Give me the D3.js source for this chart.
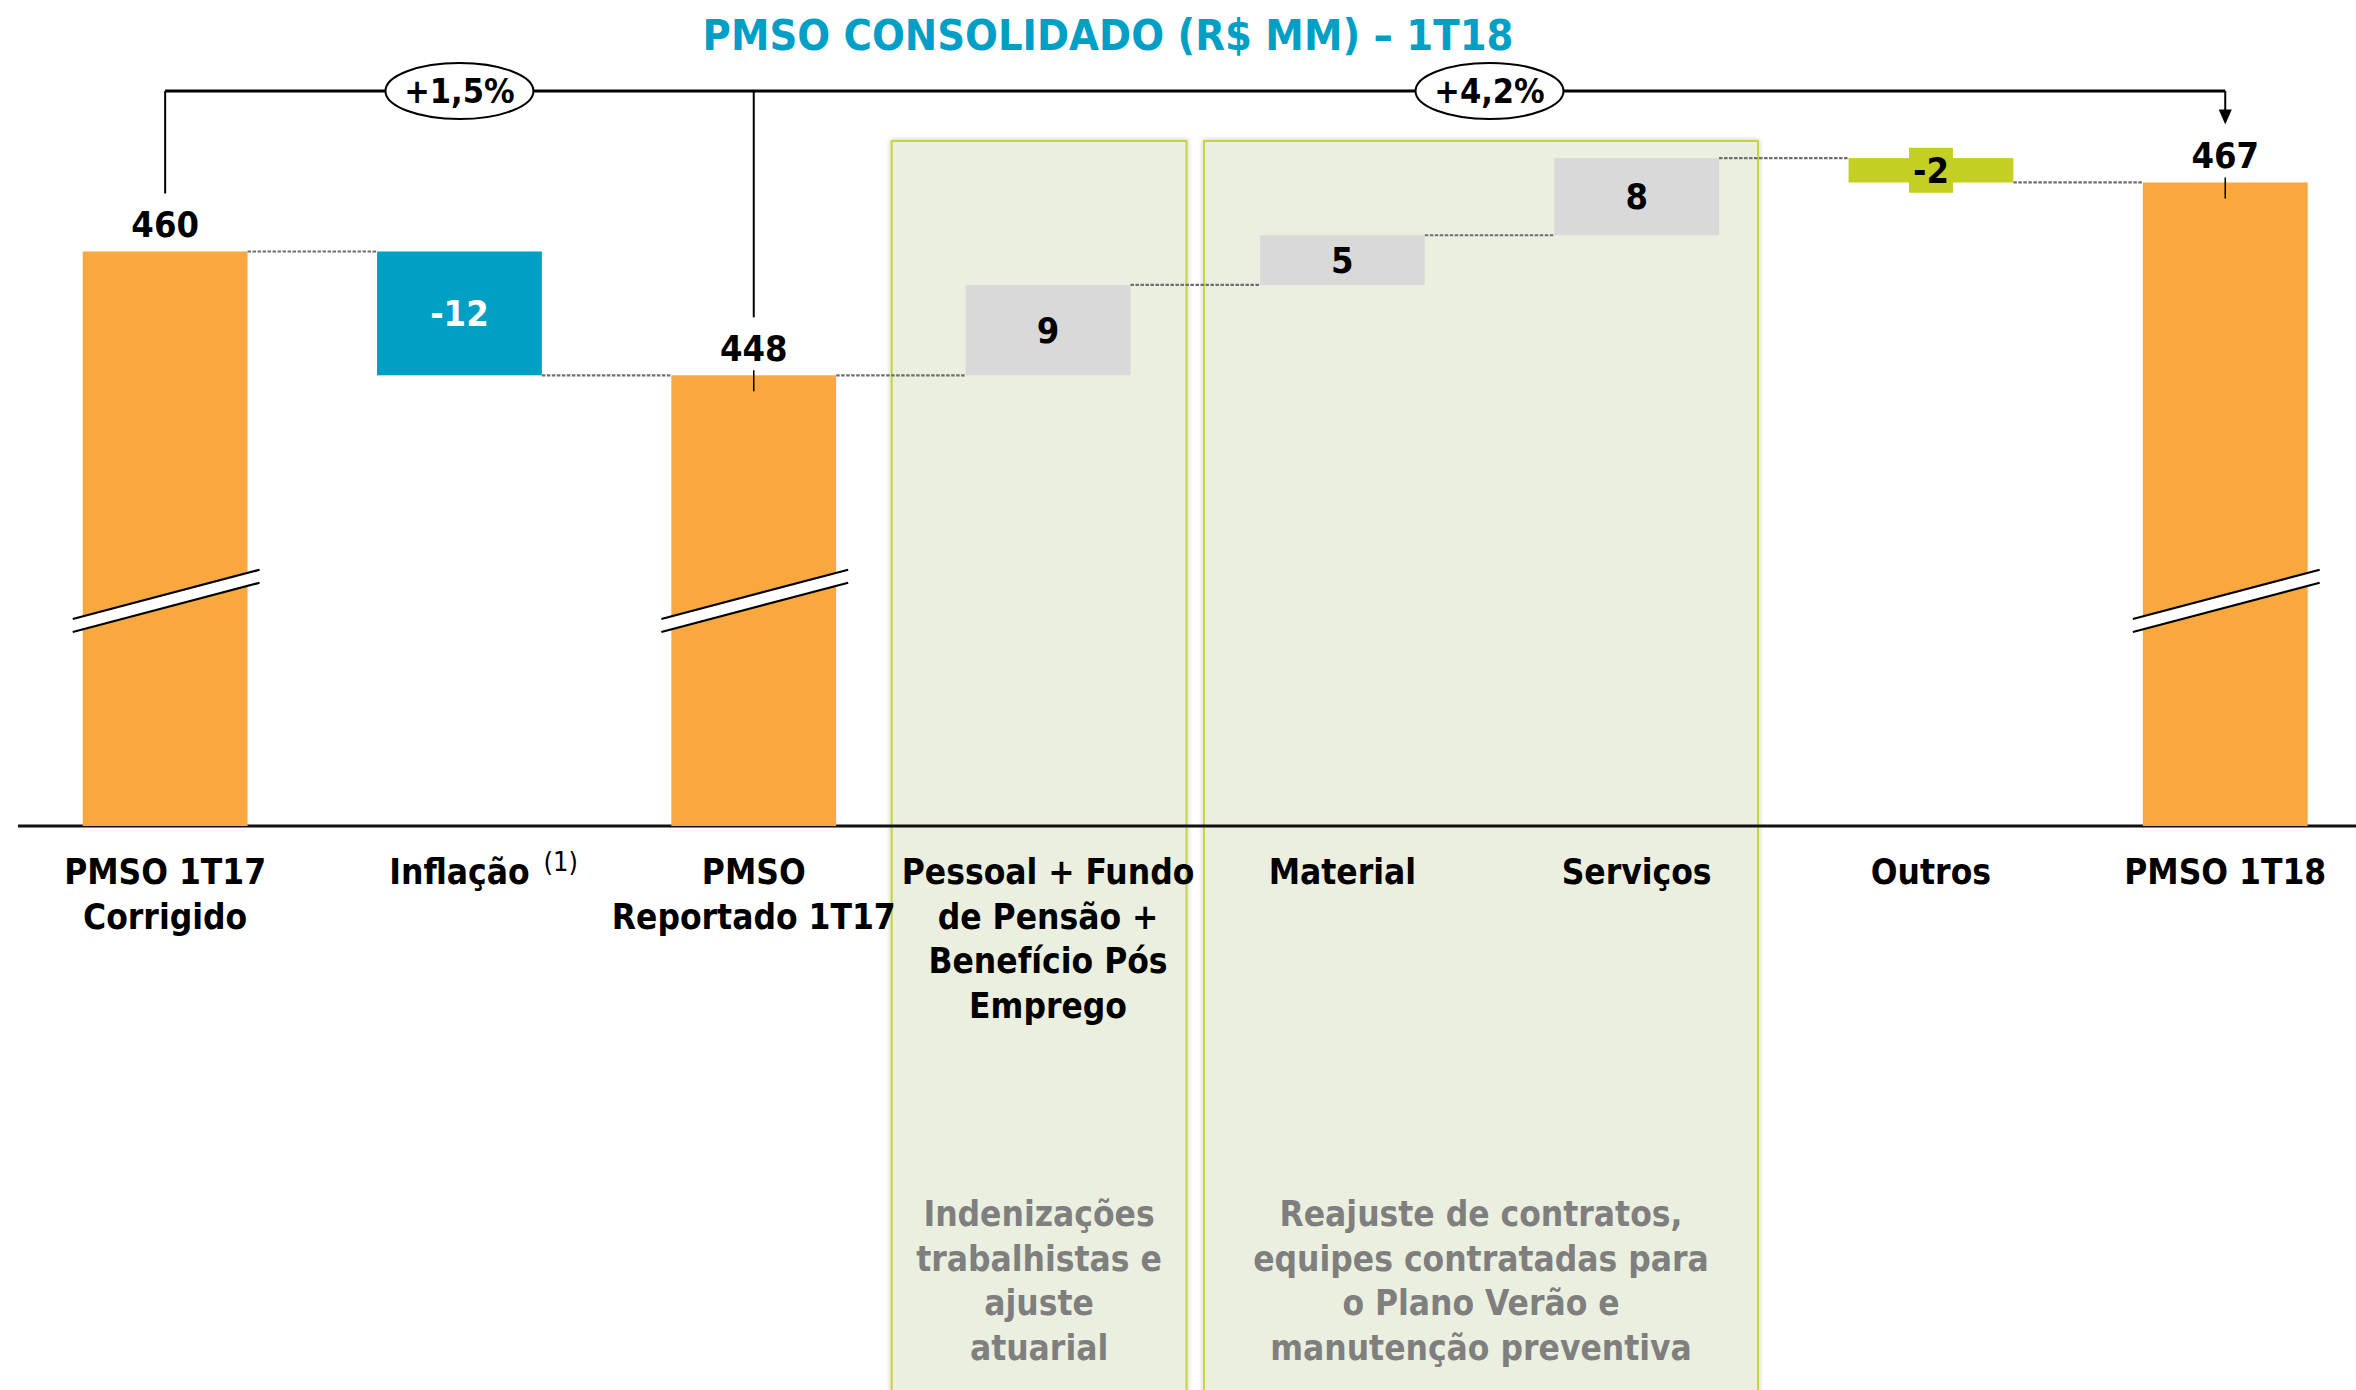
<!DOCTYPE html>
<html>
<head>
<meta charset="utf-8">
<script src="https://cdn.jsdelivr.net/npm/d3@7"></script>
<style>
    body { margin: 0; background: #fff; }
    text { font-family: 'DejaVu Sans Condensed', 'DejaVu Sans', sans-serif; font-stretch: condensed; font-weight: bold; }
</style>
</head>
<body>
<svg id="chart" width="2356" height="1390"></svg>
<script>
// ------- Data -------

const chartTitle = 'PMSO CONSOLIDADO (R$ MM) – 1T18';

const categories = [
    ['PMSO 1T17', 'Corrigido'],
    ['Inflação'],
    ['PMSO', 'Reportado 1T17'],
    ['Pessoal + Fundo', 'de Pensão +', 'Benefício Pós', 'Emprego'],
    ['Material'],
    ['Serviços'],
    ['Outros'],
    ['PMSO 1T18']
];
const footnoteMarks = ['', '(1)', '', '', '', '', '', ''];
const kinds = ['total', 'delta', 'total', 'delta', 'delta', 'delta', 'delta', 'total'];
const values = [460.2, -12.2, 448.0, 8.9, 4.9, 7.6, -2.4, 467.0];

// growth brackets: from bar -> to bar
const growthFrom = [0, 2];
const growthTo = 7;

const notes = [
    { bars: [3], lines: ['Indenizações', 'trabalhistas e', 'ajuste', 'atuarial'] },
    { bars: [4, 5], lines: ['Reajuste de contratos,', 'equipes contratadas para', 'o Plano Verão e', 'manutenção preventiva'] }
];

// ------- Styles -------

const barColours = ['#F9A83F', '#00A0C4', '#F9A83F', '#D9D9D9', '#D9D9D9', '#D9D9D9', '#C3CF22', '#F9A83F'];
const insideTextColours = ['#000', '#fff', '#000', '#000', '#000', '#000', '#000', '#000'];
const notePads = [[74, 56], [56, 39]];

// ------- Set up -------

const svg = d3.select('#chart');
const width = +svg.attr('width');
const height = +svg.attr('height');

const baseY = 826;
const bracketY = 91;
const breakY = 601;
const step = 294.3;

const x = d3.scaleBand()
    .domain(d3.range(categories.length))
    .range([18, 18 + step * categories.length])
    .paddingInner(0.44)
    .paddingOuter(0.22);

const y = d3.scaleLinear()
    .domain([403.6, 470])
    .range([baseY, 152]);

// running totals for the waterfall
const bars = [];
let running = 0;
values.forEach((v, i) => {
    if (kinds[i] == 'total') {
        running = v;
        bars.push({ i, v, y0: v, y1: null });
    } else {
        const start = running;
        running = running + v;
        bars.push({ i, v, y0: Math.max(start, running), y1: Math.min(start, running), start, end: running });
    }
});
bars.forEach(b => { b.level = kinds[b.i] == 'total' ? b.v : b.end; });

const fmt = v => String(Math.round(v)).replace('.', ',');
const cx = i => x(i) + x.bandwidth() / 2;

// ------- Shadow filter -------

const defs = svg.append('defs');
defs.append('filter')
    .attr('id', 'shadow')
    .attr('x', '-5%').attr('y', '-5%').attr('width', '110%').attr('height', '110%')
    .append('feDropShadow')
        .attr('dx', 0).attr('dy', 0)
        .attr('stdDeviation', 2.5)
        .attr('flood-color', '#000')
        .attr('flood-opacity', 0.25);

// ------- Note boxes -------

const noteG = svg.append('g').attr('class', 'notes');

notes.forEach((n, k) => {
    const first = n.bars[0];
    const last = n.bars[n.bars.length - 1];
    const left = x(first) - notePads[k][0];
    const right = x(last) + x.bandwidth() + notePads[k][1];
    noteG.append('rect')
        .attr('x', left)
        .attr('y', 141)
        .attr('width', right - left)
        .attr('height', height - 141 + 10)
        .attr('fill', '#EBEFDF')
        .attr('stroke', '#C8D43A')
        .attr('stroke-width', 2)
        .attr('filter', 'url(#shadow)');

    const t = noteG.append('text')
        .attr('text-anchor', 'middle')
        .attr('fill', '#7F7F7F')
        .attr('font-size', 35);
    t.selectAll('tspan')
        .data(n.lines)
        .join('tspan')
            .attr('x', (left + right) / 2)
            .attr('y', (d, j) => 1226 + j * 44.7)
            .text(d => d);
});

// ------- Baseline -------

svg.append('line')
    .attr('x1', 18).attr('x2', width)
    .attr('y1', baseY).attr('y2', baseY)
    .attr('stroke', '#111')
    .attr('stroke-width', 3);

// ------- Connectors -------

svg.append('g')
    .attr('class', 'connectors')
    .selectAll('line')
    .data(bars.slice(0, -1))
    .join('line')
        .attr('x1', d => x(d.i) + x.bandwidth())
        .attr('x2', d => x(d.i + 1))
        .attr('y1', d => y(d.level))
        .attr('y2', d => y(d.level))
        .attr('stroke', '#6F6F6F')
        .attr('stroke-width', 2.2)
        .attr('stroke-dasharray', '3.5,1.5');

// ------- Bars -------

const barG = svg.append('g').attr('class', 'bars');

barG.selectAll('rect')
    .data(bars)
    .join('rect')
        .attr('x', d => x(d.i))
        .attr('width', x.bandwidth())
        .attr('y', d => y(d.y0))
        .attr('height', d => kinds[d.i] == 'total' ? baseY - y(d.y0) : y(d.y1) - y(d.y0))
        .attr('fill', d => barColours[d.i]);

// axis break marks on the total bars
const breakG = svg.append('g').attr('class', 'breaks');
bars.filter(d => kinds[d.i] == 'total').forEach(d => {
    const l = x(d.i) - 10;
    const r = x(d.i) + x.bandwidth() + 12;
    const slope = -49 / 186;
    const gap = 13;
    const yl = breakY + 18;
    const yr = yl + (r - l) * slope;
    breakG.append('path')
        .attr('d', `M${l},${yl}L${r},${yr}L${r},${yr + gap}L${l},${yl + gap}Z`)
        .attr('fill', '#fff');
    [0, gap].forEach(o => {
        breakG.append('line')
            .attr('x1', l).attr('y1', yl + o)
            .attr('x2', r).attr('y2', yr + o)
            .attr('stroke', '#000')
            .attr('stroke-width', 2.2);
    });
});

// ------- Value labels -------

const labelG = svg.append('g').attr('class', 'value-labels');

bars.forEach(d => {
    if (kinds[d.i] == 'total') {
        labelG.append('text')
            .attr('x', cx(d.i))
            .attr('y', y(d.v) - 14)
            .attr('text-anchor', 'middle')
            .attr('font-size', 36)
            .attr('fill', '#000')
            .text(fmt(d.v));
    } else {
        const mid = (y(d.y0) + y(d.y1)) / 2;
        const t = labelG.append('text')
            .attr('x', cx(d.i))
            .attr('y', mid + 12.5)
            .attr('text-anchor', 'middle')
            .attr('font-size', 36)
            .attr('fill', insideTextColours[d.i])
            .text(fmt(d.v));
        // thin bars get a label box of the bar colour
        if (y(d.y1) - y(d.y0) < 40) {
            const bb = t.node().getBBox();
            labelG.insert('rect', () => t.node())
                .attr('x', bb.x - 4)
                .attr('y', mid - 22.5)
                .attr('width', bb.width + 8)
                .attr('height', 45)
                .attr('fill', barColours[d.i]);
        }
    }
});

// ------- Growth bracket -------

const bracketG = svg.append('g').attr('class', 'bracket');
const labelTop = i => y(values[i]) - 14 - 44;

bracketG.append('line')
    .attr('x1', cx(growthFrom[0])).attr('x2', cx(growthTo))
    .attr('y1', bracketY).attr('y2', bracketY)
    .attr('stroke', '#000')
    .attr('stroke-width', 3);

growthFrom.forEach(i => {
    bracketG.append('line')
        .attr('x1', cx(i)).attr('x2', cx(i))
        .attr('y1', bracketY).attr('y2', labelTop(i))
        .attr('stroke', '#000')
        .attr('stroke-width', 2);
});

// arrow to the final bar
const tipY = labelTop(growthTo);
bracketG.append('line')
    .attr('x1', cx(growthTo)).attr('x2', cx(growthTo))
    .attr('y1', bracketY).attr('y2', tipY - 12)
    .attr('stroke', '#000')
    .attr('stroke-width', 2);
bracketG.append('path')
    .attr('d', `M${cx(growthTo) - 6.5},${tipY - 15}L${cx(growthTo) + 6.5},${tipY - 15}L${cx(growthTo)},${tipY}Z`)
    .attr('fill', '#000');

// small ticks through the top of the later totals
[growthFrom[1], growthTo].forEach(i => {
    bracketG.append('line')
        .attr('x1', cx(i)).attr('x2', cx(i))
        .attr('y1', y(values[i]) - 5).attr('y2', y(values[i]) + 16)
        .attr('stroke', '#000')
        .attr('stroke-width', 1.5);
});

// percentage ellipses
const stops = growthFrom.concat([growthTo]);
growthFrom.forEach((i, k) => {
    const pct = (values[growthTo] / values[i] - 1) * 100;
    const ex = (cx(stops[k]) + cx(stops[k + 1])) / 2;
    bracketG.append('ellipse')
        .attr('cx', ex).attr('cy', bracketY)
        .attr('rx', 74).attr('ry', 28)
        .attr('fill', '#fff')
        .attr('stroke', '#000')
        .attr('stroke-width', 2);
    bracketG.append('text')
        .attr('x', ex).attr('y', bracketY + 12)
        .attr('text-anchor', 'middle')
        .attr('font-size', 34)
        .attr('fill', '#000')
        .text('+' + d3.format('.1f')(pct).replace('.', ',') + '%');
});

// ------- Category labels -------

const catG = svg.append('g').attr('class', 'categories');

categories.forEach((lines, i) => {
    const t = catG.append('text')
        .attr('text-anchor', 'middle')
        .attr('font-size', 35)
        .attr('fill', '#000');
    lines.forEach((line, j) => {
        t.append('tspan')
            .attr('x', cx(i))
            .attr('y', 884 + j * 44.7)
            .text(line);
    });
    // footnote mark hangs to the right of the centred label
    if (footnoteMarks[i]) {
        const w = t.node().getComputedTextLength();
        catG.append('text')
            .attr('x', cx(i) + w / 2 + 14)
            .attr('y', 871)
            .attr('font-size', 27)
            .style('font-weight', 'normal')
            .attr('fill', '#000')
            .text(footnoteMarks[i]);
    }
});

// ------- Title -------

svg.append('text')
    .attr('x', 1108)
    .attr('y', 50)
    .attr('text-anchor', 'middle')
    .attr('font-size', 43)
    .attr('fill', '#00A0C6')
    .text(chartTitle);
</script>
</body>
</html>
